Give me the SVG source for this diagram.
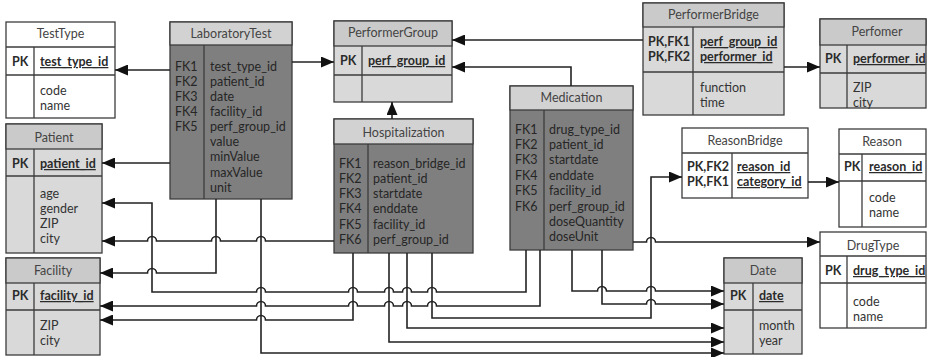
<svg xmlns="http://www.w3.org/2000/svg" width="927" height="357" viewBox="0 0 927 357">
  <style>
    .box { stroke: #3c3c3c; stroke-width: 1.3; }
    .white { fill: #ffffff; }
    .lite { fill: #d9d9d9; }
    .hdr { fill: #cacaca; }
    .hdrl { fill: #d2d2d2; }
    .dark { fill: #7f7f7f; }
    .sep { stroke: #3c3c3c; stroke-width: 1.3; fill: none; }
    text { font-family: Lato, "Liberation Sans", sans-serif; font-size: 12.5px; fill: #333333; }
    .ttl { text-anchor: middle; fill: #444444; }
    .k { font-weight: bold; fill: #2b2b2b; }
    .u { font-weight: bold; text-decoration: underline; fill: #2b2b2b; }
    .dk text, text.dk { fill: #262626; }
    .conn path { stroke: #222222; stroke-width: 1.6; fill: none; marker-end: url(#arrow); }
  </style>
  <defs>
    <marker id="arrow" markerUnits="userSpaceOnUse" markerWidth="13" markerHeight="11" refX="13" refY="5.5" orient="auto">
      <path d="M0,0 L13,5.5 L0,11 z" fill="#111111"/>
    </marker>
  </defs>

  <rect width="927" height="357" fill="#ffffff"/>

  <!-- TestType -->
  <g id="TestType">
    <rect class="box white" x="6" y="22" width="109" height="96"/>
    <path class="sep" d="M6,47 H115 M6,75 H115 M34,47 V118"/>
    <text class="ttl" x="60.5" y="38">TestType</text>
    <text class="k" x="12" y="66">PK</text>
    <text class="u" x="40" y="66">test_type_id</text>
    <text x="40" y="95">code</text>
    <text x="40" y="110">name</text>
  </g>

  <!-- LaboratoryTest -->
  <g id="LaboratoryTest">
    <rect class="box dark" x="170" y="22" width="122" height="177"/>
    <rect class="box hdrl" x="170" y="22" width="122" height="23"/>
    <path class="sep" d="M204,45 V199"/>
    <text class="ttl" x="231" y="38">LaboratoryTest</text>
    <g class="dk">
      <text x="175" y="70.5">FK1</text><text x="210" y="70.5">test_type_id</text>
      <text x="175" y="85.6">FK2</text><text x="210" y="85.6">patient_id</text>
      <text x="175" y="100.8">FK3</text><text x="210" y="100.8">date</text>
      <text x="175" y="115.9">FK4</text><text x="210" y="115.9">facility_id</text>
      <text x="175" y="131.1">FK5</text><text x="210" y="131.1">perf_group_id</text>
      <text x="210" y="146.2">value</text>
      <text x="210" y="161.4">minValue</text>
      <text x="210" y="176.5">maxValue</text>
      <text x="210" y="191.7">unit</text>
    </g>
  </g>

  <!-- PerformerGroup -->
  <g id="PerformerGroup">
    <rect class="box lite" x="334" y="21" width="118" height="81"/>
    <rect class="box hdr" x="334" y="21" width="118" height="25"/>
    <path class="sep" d="M334,75 H452 M362,46 V102"/>
    <text class="ttl" x="393" y="37">PerformerGroup</text>
    <text class="k" x="340" y="65">PK</text>
    <text class="u" x="368" y="65">perf_group_id</text>
  </g>

  <!-- PerformerBridge -->
  <g id="PerformerBridge">
    <rect class="box lite" x="643" y="3" width="141" height="112"/>
    <rect class="box hdr" x="643" y="3" width="141" height="24"/>
    <path class="sep" d="M643,72 H784 M693,27 V115"/>
    <text class="ttl" x="713.5" y="19">PerformerBridge</text>
    <text class="k" x="648" y="46">PK,FK1</text>
    <text class="k" x="648" y="61">PK,FK2</text>
    <text class="u" x="700" y="46">perf_group_id</text>
    <text class="u" x="700" y="61">performer_id</text>
    <text x="700" y="92">function</text>
    <text x="700" y="107">time</text>
  </g>

  <!-- Perfomer -->
  <g id="Perfomer">
    <rect class="box lite" x="820" y="19" width="106" height="89"/>
    <rect class="box hdr" x="820" y="19" width="106" height="26"/>
    <path class="sep" d="M820,73 H926 M847,45 V108"/>
    <text class="ttl" x="877" y="36">Perfomer</text>
    <text class="k" x="825" y="63">PK</text>
    <text class="u" x="853" y="63">performer_id</text>
    <text x="853" y="92">ZIP</text>
    <text x="853" y="107">city</text>
  </g>

  <!-- Patient -->
  <g id="Patient">
    <rect class="box lite" x="6" y="124" width="96" height="129"/>
    <rect class="box hdr" x="6" y="124" width="96" height="25"/>
    <path class="sep" d="M6,176 H102 M34,149 V253"/>
    <text class="ttl" x="54" y="142">Patient</text>
    <text class="k" x="12" y="168">PK</text>
    <text class="u" x="40" y="168">patient_id</text>
    <text x="40" y="198">age</text>
    <text x="40" y="213">gender</text>
    <text x="40" y="228">ZIP</text>
    <text x="40" y="243">city</text>
  </g>

  <!-- Facility -->
  <g id="Facility">
    <rect class="box lite" x="6" y="258" width="94" height="97"/>
    <rect class="box hdr" x="6" y="258" width="94" height="25"/>
    <path class="sep" d="M6,310 H100 M34,283 V355"/>
    <text class="ttl" x="53" y="275">Facility</text>
    <text class="k" x="12" y="300">PK</text>
    <text class="u" x="40" y="300">facility_id</text>
    <text x="40" y="330">ZIP</text>
    <text x="40" y="345">city</text>
  </g>

  <!-- Hospitalization -->
  <g id="Hospitalization">
    <rect class="box dark" x="334" y="119" width="139" height="134"/>
    <rect class="box hdrl" x="334" y="119" width="139" height="25"/>
    <path class="sep" d="M368,144 V253"/>
    <text class="ttl" x="403.5" y="137">Hospitalization</text>
    <g class="dk">
      <text x="339" y="167.5">FK1</text><text x="373" y="167.5">reason_bridge_id</text>
      <text x="339" y="182.8">FK2</text><text x="373" y="182.8">patient_id</text>
      <text x="339" y="198.1">FK3</text><text x="373" y="198.1">startdate</text>
      <text x="339" y="213.4">FK4</text><text x="373" y="213.4">enddate</text>
      <text x="339" y="228.7">FK5</text><text x="373" y="228.7">facility_id</text>
      <text x="339" y="244">FK6</text><text x="373" y="244">perf_group_id</text>
    </g>
  </g>

  <!-- Medication -->
  <g id="Medication">
    <rect class="box dark" x="510" y="86" width="123" height="164"/>
    <rect class="box hdrl" x="510" y="86" width="123" height="24"/>
    <path class="sep" d="M544,110 V250"/>
    <text class="ttl" x="571.5" y="102">Medication</text>
    <g class="dk">
      <text x="515" y="133.5">FK1</text><text x="549" y="133.5">drug_type_id</text>
      <text x="515" y="148.9">FK2</text><text x="549" y="148.9">patient_id</text>
      <text x="515" y="164.3">FK3</text><text x="549" y="164.3">startdate</text>
      <text x="515" y="179.7">FK4</text><text x="549" y="179.7">enddate</text>
      <text x="515" y="195.1">FK5</text><text x="549" y="195.1">facility_id</text>
      <text x="515" y="210.5">FK6</text><text x="549" y="210.5">perf_group_id</text>
      <text x="549" y="225.9">doseQuantity</text>
      <text x="549" y="241.3">doseUnit</text>
    </g>
  </g>

  <!-- ReasonBridge -->
  <g id="ReasonBridge">
    <rect class="box white" x="682" y="128" width="126" height="70"/>
    <path class="sep" d="M682,153 H808 M732,153 V198"/>
    <text class="ttl" x="745" y="145">ReasonBridge</text>
    <text class="k" x="687" y="171">PK,FK2</text>
    <text class="k" x="687" y="186">PK,FK1</text>
    <text class="u" x="737" y="171">reason_id</text>
    <text class="u" x="737" y="186">category_id</text>
  </g>

  <!-- Reason -->
  <g id="Reason">
    <rect class="box white" x="839" y="129" width="87" height="98"/>
    <path class="sep" d="M839,154 H926 M839,181 H926 M862,154 V227"/>
    <text class="ttl" x="882" y="146">Reason</text>
    <text class="k" x="844" y="171">PK</text>
    <text class="u" x="869" y="171">reason_id</text>
    <text x="869" y="202">code</text>
    <text x="869" y="217">name</text>
  </g>

  <!-- DrugType -->
  <g id="DrugType">
    <rect class="box white" x="820" y="232" width="106" height="96"/>
    <path class="sep" d="M820,256 H926 M820,283 H926 M847,256 V328"/>
    <text class="ttl" x="873" y="250">DrugType</text>
    <text class="k" x="825" y="275">PK</text>
    <text class="u" x="853" y="275">drug_type_id</text>
    <text x="853" y="306">code</text>
    <text x="853" y="321">name</text>
  </g>

  <!-- Date -->
  <g id="Date">
    <rect class="box lite" x="724" y="258" width="78" height="96"/>
    <rect class="box hdr" x="724" y="258" width="78" height="25"/>
    <path class="sep" d="M724,310 H802 M753,283 V354"/>
    <text class="ttl" x="763" y="275">Date</text>
    <text class="k" x="730" y="300">PK</text>
    <text class="u" x="759" y="300">date</text>
    <text x="759" y="330">month</text>
    <text x="759" y="345">year</text>
  </g>

  <!-- Foreign key connectors; small arcs mark line crossings -->
  <g id="connectors" class="conn">
    <path d="M170,70 H115"/>
    <path d="M292,62 H334"/>
    <path d="M170,163 H102"/>
    <path d="M643,40 H452"/>
    <path d="M571,86 V67 H452"/>
    <path d="M392,119 V102"/>
    <path d="M784,67 H820"/>
    <path d="M808,182 H839"/>
    <path d="M432,253 V318 H651 V177 H682"/>
    <path d="M633,242 H646.5 A4.5,4.5 0 0 1 655.5,242 H820"/>
    <path d="M334,241 H265.5 A4.5,4.5 0 0 0 256.5,241 H220.5 A4.5,4.5 0 0 0 211.5,241 H156.5 A4.5,4.5 0 0 0 147.5,241 H102"/>
    <path d="M526,250 V292 H436.5 A4.5,4.5 0 0 0 427.5,292 H411.5 A4.5,4.5 0 0 0 402.5,292 H393.5 A4.5,4.5 0 0 0 384.5,292 H357.5 A4.5,4.5 0 0 0 348.5,292 H265.5 A4.5,4.5 0 0 0 256.5,292 H152 V203 H102"/>
    <path d="M216,199 V273 H156.5 A4.5,4.5 0 0 0 147.5,273 H100"/>
    <path d="M261,199 V353 H724"/>
    <path d="M353,253 V320 H265.5 A4.5,4.5 0 0 0 256.5,320 H100"/>
    <path d="M540,250 V306 H436.5 A4.5,4.5 0 0 0 427.5,306 H411.5 A4.5,4.5 0 0 0 402.5,306 H393.5 A4.5,4.5 0 0 0 384.5,306 H357.5 A4.5,4.5 0 0 0 348.5,306 H265.5 A4.5,4.5 0 0 0 256.5,306 H100"/>
    <path d="M389,253 V342 H724"/>
    <path d="M407,253 V328 H724"/>
    <path d="M572,250 V291 H597.5 A4.5,4.5 0 0 1 606.5,291 H646.5 A4.5,4.5 0 0 1 655.5,291 H724"/>
    <path d="M602,250 V304 H646.5 A4.5,4.5 0 0 1 655.5,304 H724"/>
  </g>
</svg>
